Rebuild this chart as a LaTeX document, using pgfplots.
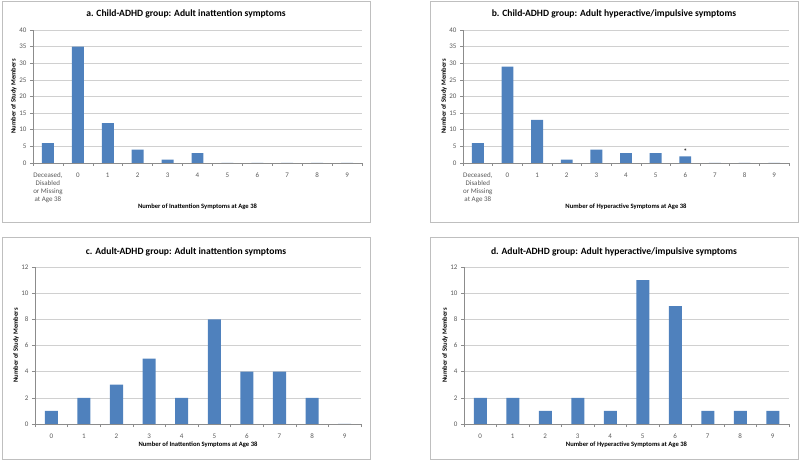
\documentclass[border=0pt]{standalone}
\usepackage{fontspec}
\setmainfont{Carlito}
\usepackage{pgfplots}
\pgfplotsset{compat=1.18}
\definecolor{barblue}{HTML}{4F81BD}
\definecolor{gridgray}{HTML}{D0D0D0}
\definecolor{axgray}{HTML}{8C8C8C}
\definecolor{txtgray}{HTML}{595959}
\definecolor{boxgray}{HTML}{BFBFBF}

\pgfplotsset{
  excel/.style={
    scale only axis, anchor=south west,
    ybar, bar width=0.4, ymin=0, enlargelimits=false,
    axis x line*=bottom, axis y line*=left,
    axis line style={axgray, line width=0.6pt},
    ymajorgrids, grid style={gridgray, line width=0.5pt},
    xtick=data,
    major x tick style={draw=none},
    minor x tick style={axgray, line width=0.5pt},
    major y tick style={axgray, line width=0.5pt},
    tick align=outside,
    major tick length=3pt, minor tick length=3pt,
    /pgf/number format/assume math mode=true,
    xticklabel style={font=\fontsize{7}{8}\selectfont, text=txtgray, align=center, anchor=north, yshift=-3pt},
    yticklabel style={font=\fontsize{7}{8}\selectfont, text=txtgray},
    xlabel style={font=\bfseries\fontsize{6.6}{8}\selectfont, at={(axis description cs:0.5,0)}, anchor=center},
    ylabel style={font=\bfseries\fontsize{6.6}{8}\selectfont, at={(axis description cs:-0.058,0.5)}, anchor=center, rotate=0},
    ylabel={Number of Study Members},
  },
  topaxis/.style={
    excel, width=328pt, height=133pt,
    xmin=-0.5, xmax=10.5, ymax=40, ytick={0,5,...,40},
    minor xtick={-0.5,0.5,...,10.5},
    xticklabels={{Deceased,\\Disabled\\or Missing\\at Age 38},0,1,2,3,4,5,6,7,8,9},
    xlabel style={yshift=-44pt},
  },
  botaxis/.style={
    excel, width=326pt, height=157pt,
    xmin=-0.5, xmax=9.5, ymax=12, ytick={0,2,...,12},
    minor xtick={-0.5,0.5,...,9.5},
    xticklabels={0,1,2,3,4,5,6,7,8,9},
    xlabel style={yshift=-21pt},
  },
}

\begin{document}
\begin{tikzpicture}[x=1pt,y=1pt]
\path (0,0) rectangle (800,460);
% panel frames
\draw[boxgray, line width=0.8pt] (2,238) rectangle (370,459);
\draw[boxgray, line width=0.8pt] (430,238) rectangle (798,459);
\draw[boxgray, line width=0.8pt] (2,1) rectangle (370,222.5);
\draw[boxgray, line width=0.8pt] (430,1) rectangle (798,222.5);
% titles
\node[font=\bfseries\fontsize{9.6}{11}\selectfont] at (186,446) {a. Child-ADHD group: Adult inattention symptoms};
\node[font=\bfseries\fontsize{9.6}{11}\selectfont] at (614,446) {b. Child-ADHD group: Adult hyperactive/impulsive symptoms};
\node[font=\bfseries\fontsize{9.6}{11}\selectfont] at (186,208) {c. Adult-ADHD group: Adult inattention symptoms};
\node[font=\bfseries\fontsize{9.6}{11}\selectfont] at (614,208) {d. Adult-ADHD group: Adult hyperactive/impulsive symptoms};

\begin{axis}[topaxis, at={(33pt,297pt)}, width=329pt, xlabel={Number of Inattention Symptoms at Age 38}]
\addplot[fill=barblue, draw=none] coordinates {(0,6) (1,35) (2,12) (3,4) (4,1) (5,3) (6,0) (7,0) (8,0) (9,0) (10,0)};
\end{axis}

\begin{axis}[topaxis, at={(463pt,297pt)}, width=326pt, xlabel={Number of Hyperactive Symptoms at Age 38}]
\addplot[fill=barblue, draw=none] coordinates {(0,6) (1,29) (2,13) (3,1) (4,4) (5,3) (6,3) (7,2) (8,0) (9,0) (10,0)};
\node[font=\fontsize{8}{8}\selectfont, anchor=south, inner sep=0.5pt] at (axis cs:7,2.3) {*};
\end{axis}

\begin{axis}[botaxis, at={(35pt,36pt)}, width=326pt, xlabel={Number of Inattention Symptoms at Age 38}]
\addplot[fill=barblue, draw=none] coordinates {(0,1) (1,2) (2,3) (3,5) (4,2) (5,8) (6,4) (7,4) (8,2) (9,0)};
\end{axis}

\begin{axis}[botaxis, at={(464pt,36pt)}, width=325pt, xlabel={Number of Hyperactive Symptoms at Age 38}]
\addplot[fill=barblue, draw=none] coordinates {(0,2) (1,2) (2,1) (3,2) (4,1) (5,11) (6,9) (7,1) (8,1) (9,1)};
\end{axis}
\end{tikzpicture}
\end{document}
